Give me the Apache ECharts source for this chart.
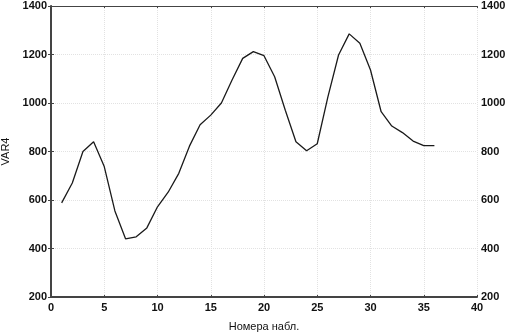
<!DOCTYPE html>
<html><head><meta charset="utf-8">
<script src="https://cdn.jsdelivr.net/npm/echarts@6/dist/echarts.min.js"></script>
<style>html,body{margin:0;padding:0;background:#fff}#c{width:516px;height:335px}</style>
</head><body><div id="c"></div>
<script>
var obs = [1,2,3,4,5,6,7,8,9,10,11,12,13,14,15,16,17,18,19,20,21,22,23,24,25,26,27,28,29,30,31,32,33,34,35,36];
var var4 = [588,670,800,840,738,555,440,448,485,572,632,710,822,910,950,1000,1095,1184,1212,1195,1108,970,840,803,832,1025,1198,1285,1246,1136,964,905,878,843,824,824];
var xTitle = 'Номера набл.';
var yTitle = 'VAR4';

var font = 'Liberation Sans';
function fmt(v){ return String(v); }
var lbl = {color:'#111', fontSize:11, fontFamily:font, fontWeight:'bold', formatter:fmt};
var chart = echarts.init(document.getElementById('c'));
chart.setOption({
  animation:false,
  grid:{left:51, right:39, top:6, bottom:38, containLabel:false, outerBoundsMode:'none'},
  xAxis:[{
    type:'value', min:0, max:40, interval:5,
    name:xTitle, nameLocation:'middle', nameGap:24,
    nameTextStyle:{color:'#111', fontSize:11, fontFamily:font},
    axisLine:{lineStyle:{color:'#444', width:2}},
    axisTick:{show:true, inside:true, length:2, lineStyle:{color:'#444'}},
    axisLabel:Object.assign({margin:5}, lbl),
    splitLine:{show:true, lineStyle:{color:'#e2e2e2', type:'dotted'}}
  },{
    type:'value', min:0, max:40, interval:5, position:'top',
    axisLine:{show:true, lineStyle:{color:'#444', width:1}},
    axisTick:{show:true, inside:true, length:2, lineStyle:{color:'#444'}},
    axisLabel:{show:false}, splitLine:{show:false}
  }],
  yAxis:[{
    type:'value', min:200, max:1400, interval:200,
    name:yTitle, nameLocation:'middle', nameGap:38,
    nameTextStyle:{color:'#111', fontSize:11, fontFamily:font},
    axisLine:{show:true, lineStyle:{color:'#444', width:2}},
    axisTick:{show:true, length:3, lineStyle:{color:'#444'}},
    axisLabel:Object.assign({margin:4}, lbl),
    splitLine:{show:true, lineStyle:{color:'#e2e2e2', type:'dotted'}}
  },{
    type:'value', min:200, max:1400, interval:200, position:'right',
    axisLine:{show:true, lineStyle:{color:'#444', width:1}},
    axisTick:{show:true, length:3, lineStyle:{color:'#444'}},
    axisLabel:Object.assign({margin:4}, lbl),
    splitLine:{show:false}
  }],
  series:[{
    type:'line', xAxisIndex:0, yAxisIndex:0,
    data:obs.map(function(x,i){return [x, var4[i]];}),
    showSymbol:false, symbol:'none',
    lineStyle:{color:'#1a1a1a', width:1.3}
  }]
});
</script></body></html>
